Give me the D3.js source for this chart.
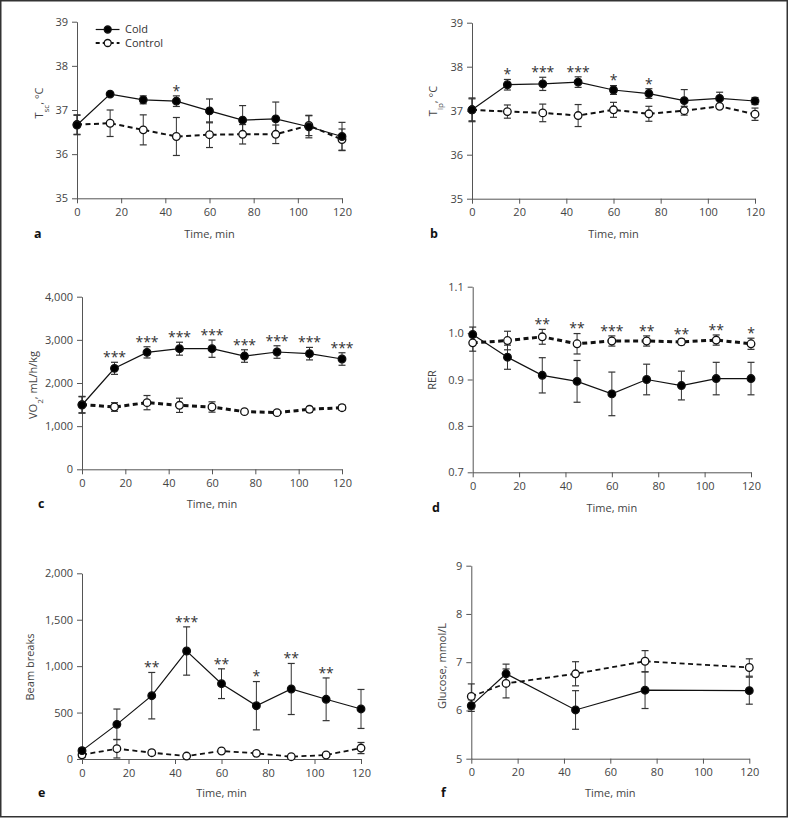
<!DOCTYPE html>
<html>
<head>
<meta charset="utf-8">
<title></title>
<script src="https://cdn.jsdelivr.net/npm/d3@7/dist/d3.min.js"></script>
<style>
body { margin: 0; background: #fff; }
text { font-family: "Open Sans", sans-serif; font-weight: 400; }
</style>
</head>
<body>
<script>
const width = 788
const height = 819

// time points
const times = [0, 15, 30, 45, 60, 75, 90, 105, 120]
const glucoseTimes = [0, 15, 45, 75, 120]

// a: subcutaneous temperature
const tscCold = [36.66, 37.36, 37.23, 37.2, 36.98, 36.77, 36.8, 36.62, 36.4]
const tscColdErr = [0.22, 0.02, 0.09, 0.12, 0.27, 0.33, 0.38, 0.25, 0.32]
const tscControl = [36.67, 36.7, 36.55, 36.4, 36.44, 36.45, 36.45, 36.65, 36.33]
const tscControlErr = [0.22, 0.3, 0.34, 0.43, 0.29, 0.22, 0.21, 0.23, 0.24]
const tscStars = ['', '', '', '*', '', '', '', '', '']

// b: intraperitoneal temperature
const tipCold = [37.02, 37.59, 37.61, 37.65, 37.47, 37.39, 37.23, 37.28, 37.22]
const tipColdErr = [0.25, 0.12, 0.15, 0.12, 0.1, 0.11, 0.25, 0.14, 0.08]
const tipControl = [37.02, 36.98, 36.95, 36.89, 37.02, 36.93, 37.0, 37.1, 36.92]
const tipControlErr = [0.27, 0.15, 0.2, 0.25, 0.17, 0.17, 0.1, 0.03, 0.14]
const tipStars = ['', '*', '***', '***', '*', '*', '', '', '']

// c: VO2
const vo2Cold = [1490, 2340, 2710, 2795, 2795, 2625, 2718, 2680, 2556]
const vo2ColdErr = [190, 140, 130, 150, 200, 145, 145, 145, 145]
const vo2Control = [1500, 1444, 1545, 1483, 1444, 1336, 1313, 1390, 1428]
const vo2ControlErr = [190, 100, 165, 165, 120, 20, 20, 65, 60]
const vo2Stars = ['', '***', '***', '***', '***', '***', '***', '***', '***']

// d: RER
const rerCold = [0.997, 0.948, 0.909, 0.896, 0.869, 0.9, 0.887, 0.902, 0.902]
const rerColdErr = [0.016, 0.026, 0.038, 0.045, 0.047, 0.033, 0.031, 0.035, 0.035]
const rerControl = [0.979, 0.984, 0.992, 0.977, 0.983, 0.983, 0.981, 0.985, 0.977]
const rerControlErr = [0.018, 0.02, 0.016, 0.022, 0.011, 0.011, 0.006, 0.011, 0.012]
const rerStars = ['', '', '**', '**', '***', '**', '**', '**', '*']

// e: beam breaks
const beamCold = [90, 373, 682, 1163, 811, 574, 754, 643, 539]
const beamColdErr = [25, 165, 250, 260, 160, 260, 275, 230, 210]
const beamControl = [45, 111, 68, 32, 86, 61, 25, 43, 118]
const beamControlErr = [30, 100, 25, 0, 25, 0, 0, 0, 60]
const beamStars = ['', '', '**', '***', '**', '*', '**', '**', '']

// f: glucose
const gluCold = [6.1, 6.76, 6.01, 6.42, 6.41]
const gluColdErr = [0.12, 0.2, 0.4, 0.38, 0.28]
const gluControl = [6.29, 6.56, 6.76, 7.02, 6.89]
const gluControlErr = [0.26, 0.3, 0.25, 0.22, 0.18]

const xTicks = [0, 20, 40, 60, 80, 100, 120]

const svg = d3.select('body').append('svg')
  .attr('width', width)
  .attr('height', height)

// frame around the figure
svg.append('rect')
  .attr('x', 0.75).attr('y', 0.75)
  .attr('width', 786.5).attr('height', 816)
  .attr('fill', 'none').attr('stroke', '#333').attr('stroke-width', 1.5)

const panels = [
  { letter: 'a', x0: 77, x1: 342, yb: 198.3, yt: 21.7, domain: [35, 39], ticks: [35, 36, 37, 38, 39], fmt: d3.format('d'),
    t: times, cold: tscCold, coldErr: tscColdErr, ctrl: tscControl, ctrlErr: tscControlErr, stars: tscStars,
    ylab: ['T', 'sc', ', °C'], ylabX: 39, ylabY: 103, letterPos: [34, 238], timeY: 238, dashW: 2, legend: true },
  { letter: 'b', x0: 472, x1: 755, yb: 198.7, yt: 22.7, domain: [35, 39], ticks: [35, 36, 37, 38, 39], fmt: d3.format('d'),
    t: times, cold: tipCold, coldErr: tipColdErr, ctrl: tipControl, ctrlErr: tipControlErr, stars: tipStars,
    ylab: ['T', 'ip', ', °C'], ylabX: 433, ylabY: 101, letterPos: [430, 238], timeY: 238, dashW: 2 },
  { letter: 'c', x0: 82, x1: 342, yb: 469.3, yt: 296.7, domain: [0, 4000], ticks: [0, 1000, 2000, 3000, 4000], fmt: d3.format(','),
    t: times, cold: vo2Cold, coldErr: vo2ColdErr, ctrl: vo2Control, ctrlErr: vo2ControlErr, stars: vo2Stars,
    ylab: ['VO', '2', ', mL/h/kg'], ylabX: 33, ylabY: 385, letterPos: [38, 508], timeY: 508, dashW: 3 },
  { letter: 'd', x0: 472.7, x1: 751, yb: 472.3, yt: 286.7, domain: [0.7, 1.1], ticks: [0.7, 0.8, 0.9, 1.0, 1.1], fmt: d3.format('.1f'),
    t: times, cold: rerCold, coldErr: rerColdErr, ctrl: rerControl, ctrlErr: rerControlErr, stars: rerStars,
    ylab: ['RER', '', ''], ylabX: 432, ylabY: 380, letterPos: [432, 512], timeY: 512, dashW: 3 },
  { letter: 'e', x0: 82, x1: 361, yb: 759, yt: 573.3, domain: [0, 2000], ticks: [0, 500, 1000, 1500, 2000], fmt: d3.format(','),
    t: times, cold: beamCold, coldErr: beamColdErr, ctrl: beamControl, ctrlErr: beamControlErr, stars: beamStars,
    ylab: ['Beam breaks', '', ''], ylabX: 30, ylabY: 667, letterPos: [38, 797], timeY: 797, dashW: 1.8 },
  { letter: 'f', x0: 471.3, x1: 749.3, yb: 758.7, yt: 565.7, domain: [5, 9], ticks: [5, 6, 7, 8, 9], fmt: d3.format('d'),
    t: glucoseTimes, cold: gluCold, coldErr: gluColdErr, ctrl: gluControl, ctrlErr: gluControlErr, stars: null,
    ylab: ['Glucose, mmol/L', '', ''], ylabX: 442, ylabY: 666, letterPos: [441, 797], timeY: 797, dashW: 1.8 }
]

panels.forEach(p => {
  const x = d3.scaleLinear().domain([0, 120]).range([p.x0, p.x1])
  const y = d3.scaleLinear().domain(p.domain).range([p.yb, p.yt])
  const g = svg.append('g')

  // axes
  const yAxis = g.append('g')
    .attr('transform', `translate(${p.x0},0)`)
    .call(d3.axisLeft(y).tickValues(p.ticks).tickFormat(p.fmt).tickSize(5).tickSizeOuter(0).tickPadding(4))
  const xAxis = g.append('g')
    .attr('transform', `translate(0,${p.yb})`)
    .call(d3.axisBottom(x).tickValues(xTicks).tickSize(5).tickSizeOuter(0).tickPadding(5))
  ;[xAxis, yAxis].forEach(a => {
    a.select('.domain').attr('stroke', '#555')
    a.selectAll('.tick line').attr('stroke', '#555')
    a.selectAll('text').attr('fill', '#444').style('font-size', '11px')
  })

  // axis titles
  g.append('text')
    .attr('x', (p.x0 + p.x1) / 2).attr('y', p.timeY)
    .attr('text-anchor', 'middle').attr('fill', '#444').style('font-size', '11px')
    .text('Time, min')
  const yl = g.append('text')
    .attr('transform', `translate(${p.ylabX},${p.ylabY}) rotate(-90)`)
    .attr('text-anchor', 'middle').attr('dy', '0.35em').attr('fill', '#444').style('font-size', '11px')
  yl.append('tspan').text(p.ylab[0])
  if (p.ylab[1]) yl.append('tspan').attr('baseline-shift', 'sub').style('font-size', '8px').text(p.ylab[1])
  if (p.ylab[2]) yl.append('tspan').text(p.ylab[2])

  g.append('text')
    .attr('x', p.letterPos[0]).attr('y', p.letterPos[1])
    .style('font-weight', 700).attr('fill', '#111').style('font-size', '12.5px')
    .text(p.letter)

  const series = [
    { vals: p.cold, err: p.coldErr, fill: '#000', dash: null, w: 1.2 },
    { vals: p.ctrl, err: p.ctrlErr, fill: '#fff', dash: '5,3.5', w: p.dashW }
  ]

  // error bars
  series.forEach(s => {
    s.vals.forEach((v, i) => {
      if (!s.err[i]) return
      const cx = x(p.t[i])
      const y1 = y(v + s.err[i]), y2 = y(v - s.err[i])
      g.append('line').attr('x1', cx).attr('x2', cx).attr('y1', y1).attr('y2', y2)
        .attr('stroke', '#333').attr('stroke-width', 1)
      ;[y1, y2].forEach(yy => g.append('line')
        .attr('x1', cx - 3.5).attr('x2', cx + 3.5).attr('y1', yy).attr('y2', yy)
        .attr('stroke', '#333').attr('stroke-width', 1.2))
    })
  })

  // lines, control under cold
  const line = d3.line().x((d, i) => x(p.t[i])).y(d => y(d))
  series.slice().reverse().forEach(s => {
    g.append('path').datum(s.vals)
      .attr('d', line).attr('fill', 'none')
      .attr('stroke', '#111').attr('stroke-width', s.w)
      .attr('stroke-dasharray', s.dash)
  })
  series.slice().reverse().forEach(s => {
    g.selectAll(null).data(s.vals).enter().append('circle')
      .attr('cx', (d, i) => x(p.t[i])).attr('cy', d => y(d)).attr('r', 3.8)
      .attr('fill', s.fill).attr('stroke', '#111').attr('stroke-width', 1.3)
  })

  // significance stars
  if (p.stars) {
    p.stars.forEach((st, i) => {
      if (!st) return
      const top = Math.min(y(p.cold[i] + p.coldErr[i]), y(p.ctrl[i] + p.ctrlErr[i]))
      g.append('text')
        .attr('x', x(p.t[i])).attr('y', top - 8 + 7.8)
        .attr('text-anchor', 'middle').attr('fill', '#333').style('font-size', '14px')
        .text(st)
    })
  }

  // legend
  if (p.legend) {
    const lg = g.append('g')
    const items = [
      { label: 'Cold', fill: '#000', dash: null, w: 1.2, y: 29.5 },
      { label: 'Control', fill: '#fff', dash: '4,3', w: 2.2, y: 43 }
    ]
    items.forEach(it => {
      lg.append('line').attr('x1', 95.7).attr('x2', 119.5).attr('y1', it.y).attr('y2', it.y)
        .attr('stroke', '#111').attr('stroke-width', it.w).attr('stroke-dasharray', it.dash)
      lg.append('circle').attr('cx', 107.7).attr('cy', it.y).attr('r', 3.5)
        .attr('fill', it.fill).attr('stroke', '#111').attr('stroke-width', 1.3)
      lg.append('text').attr('x', 125).attr('y', it.y).attr('dy', '0.35em')
        .attr('fill', '#333').style('font-size', '11px').text(it.label)
    })
  }
})
</script>
</body>
</html>
